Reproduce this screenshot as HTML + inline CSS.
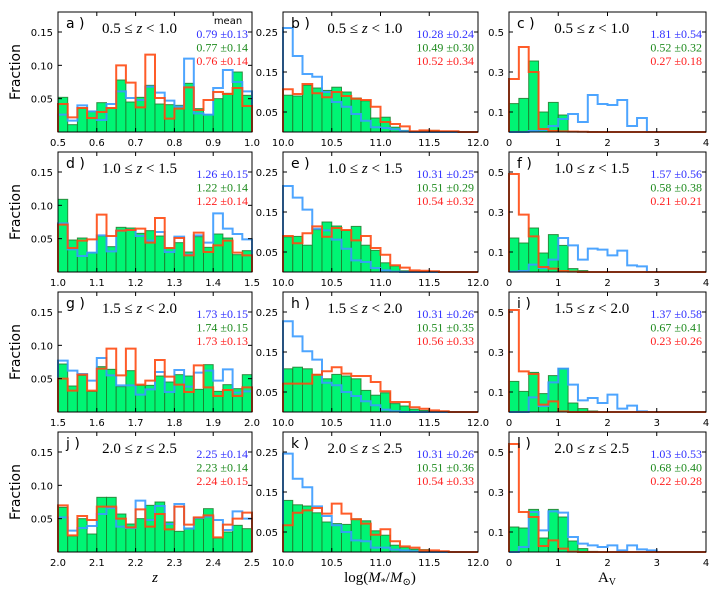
<!DOCTYPE html>
<html><head><meta charset="utf-8">
<style>
body{margin:0;background:#fff;}
svg{display:block;}
.tk{font-family:"DejaVu Sans","Liberation Sans",sans-serif;font-size:10px;fill:#000;}
.pl{font-family:"DejaVu Sans","Liberation Sans",sans-serif;font-size:14px;fill:#000;}
.ti{font-family:"Liberation Serif","DejaVu Serif",serif;font-size:15px;fill:#000;}
.mn{font-family:"Liberation Serif","DejaVu Serif",serif;font-size:12px;}
.yl{font-family:"DejaVu Sans","Liberation Sans",sans-serif;font-size:14px;fill:#000;}
.xl{font-family:"Liberation Serif","DejaVu Serif",serif;font-size:15px;fill:#000;}
</style></head>
<body>
<svg id="chart" width="720" height="600" viewBox="0 0 720 600" xmlns="http://www.w3.org/2000/svg"></svg>
<script>
// ---- data (20 bins per panel) ----
const panelIds = ["a","b","c","d","e","f","g","h","i","j","k","l"];
const zRanges = ["0.5 ≤ z < 1.0","1.0 ≤ z < 1.5","1.5 ≤ z < 2.0","2.0 ≤ z ≤ 2.5"];
const blueMeans = ["0.79 ±0.13","10.28 ±0.24","1.81 ±0.54","1.26 ±0.15","10.31 ±0.25","1.57 ±0.56","1.73 ±0.15","10.31 ±0.26","1.37 ±0.58","2.25 ±0.14","10.31 ±0.26","1.03 ±0.53"];
const greenMeans = ["0.77 ±0.14","10.49 ±0.30","0.52 ±0.32","1.22 ±0.14","10.51 ±0.29","0.58 ±0.38","1.74 ±0.15","10.51 ±0.35","0.67 ±0.41","2.23 ±0.14","10.51 ±0.36","0.68 ±0.40"];
const redMeans = ["0.76 ±0.14","10.52 ±0.34","0.27 ±0.18","1.22 ±0.14","10.54 ±0.32","0.21 ±0.21","1.73 ±0.13","10.56 ±0.33","0.23 ±0.26","2.24 ±0.15","10.54 ±0.33","0.22 ±0.28"];
const zTickLabels = [["0.5","0.6","0.7","0.8","0.9","1.0"],["1.0","1.1","1.2","1.3","1.4","1.5"],["1.5","1.6","1.7","1.8","1.9","2.0"],["2.0","2.1","2.2","2.3","2.4","2.5"]];
const massTickLabels = ["10.0","10.5","11.0","11.5","12.0"];
const avTickLabels = ["0","1","2","3","4"];
const zYTicks = ["0.05","0.10","0.15"];
const massYTicks = ["0.05","0.15","0.25"];
const avYTicks = ["0.1","0.3","0.5"];

const greenData = [
 [0.052,0.011,0.036,0.031,0.044,0.036,0.078,0.045,0.052,0.070,0.042,0.041,0.040,0.073,0.035,0.026,0.050,0.058,0.090,0.055],
 [0.092,0.090,0.117,0.110,0.104,0.112,0.100,0.085,0.078,0.035,0.037,0.012,0.004,0,0.003,0.004,0,0,0,0],
 [0.142,0.168,0.355,0.100,0.148,0.085,0.003,0.002,0.002,0.001,0,0,0,0,0,0,0,0,0,0],
 [0.109,0.048,0.051,0.029,0.054,0.038,0.067,0.066,0.058,0.062,0.054,0.036,0.044,0.030,0.053,0.037,0.057,0.051,0.026,0.032],
 [0.088,0.089,0.067,0.106,0.125,0.115,0.104,0.114,0.067,0.054,0.023,0.015,0.003,0.002,0.001,0,0,0,0,0],
 [0.170,0.145,0.220,0.095,0.187,0.133,0.017,0.007,0,0,0,0,0,0,0,0,0,0,0,0],
 [0.072,0.039,0.055,0.031,0.068,0.064,0.038,0.062,0.040,0.040,0.054,0.045,0.056,0.054,0.034,0.071,0.031,0.041,0.035,0.056],
 [0.108,0.112,0.108,0.094,0.083,0.094,0.090,0.083,0.054,0.042,0.048,0.021,0.015,0.007,0.004,0.002,0.002,0,0,0],
 [0.153,0.103,0.198,0.092,0.182,0.217,0.045,0.017,0.005,0,0,0,0,0,0,0,0,0,0,0],
 [0.067,0.024,0.050,0.027,0.082,0.082,0.057,0.042,0.050,0.070,0.075,0.045,0.031,0.036,0.050,0.065,0.021,0.030,0.040,0.035],
 [0.129,0.118,0.115,0.098,0.075,0.071,0.069,0.083,0.078,0.053,0.042,0.017,0.012,0.007,0.006,0.002,0,0,0,0],
 [0.125,0.120,0.213,0.070,0.213,0.175,0.055,0.017,0.003,0,0,0,0,0,0,0,0,0,0,0]
];
const blueData = [
 [0.026,0.017,0.040,0.031,0.018,0.042,0.061,0.051,0.048,0.068,0.059,0.047,0.038,0.110,0.028,0.026,0.066,0.093,0.075,0.061],
 [0.260,0.190,0.145,0.138,0.100,0.075,0.063,0.045,0.028,0.012,0.010,0.007,0.002,0,0,0,0,0,0,0],
 [0,0,0.005,0.010,0.030,0.065,0.090,0.050,0.185,0.140,0.135,0.160,0.030,0.070,0,0,0,0,0,0],
 [0.073,0.034,0.024,0.029,0.055,0.031,0.062,0.063,0.054,0.047,0.060,0.030,0.053,0.026,0.055,0.044,0.088,0.065,0.057,0.049],
 [0.215,0.186,0.156,0.108,0.104,0.081,0.058,0.029,0.025,0.010,0.004,0.001,0,0,0,0,0,0,0,0],
 [0.002,0.005,0.037,0.020,0.062,0.170,0.133,0.062,0.117,0.112,0.083,0.107,0.033,0.028,0,0,0,0,0,0],
 [0.077,0.062,0.057,0.047,0.081,0.055,0.040,0.040,0.026,0.034,0.060,0.030,0.063,0.038,0.059,0.062,0.047,0.064,0.029,0.031],
 [0.227,0.189,0.152,0.131,0.073,0.067,0.050,0.040,0.027,0.017,0.006,0.002,0,0,0,0,0,0,0,0],
 [0,0,0.073,0.030,0.148,0.217,0.137,0.058,0.070,0.045,0.087,0.017,0.032,0.003,0,0,0,0,0,0],
 [0.052,0.032,0.036,0.039,0.057,0.066,0.038,0.036,0.077,0.048,0.069,0.042,0.072,0.035,0.051,0.053,0.048,0.033,0.061,0.050],
 [0.246,0.183,0.162,0.114,0.090,0.067,0.050,0.029,0.027,0.011,0.011,0.006,0.004,0.002,0,0,0,0,0,0],
 [0,0.025,0.200,0.108,0.203,0.197,0.075,0.042,0.033,0.025,0.033,0.008,0.033,0.013,0.008,0,0,0,0,0]
];
const redData = [
 [0.042,0.022,0.036,0.021,0.030,0.036,0.100,0.074,0.037,0.116,0.051,0.020,0.035,0.067,0.033,0.048,0.060,0.057,0.066,0.039],
 [0.107,0.095,0.120,0.097,0.087,0.100,0.090,0.083,0.080,0.063,0.025,0.020,0.014,0.002,0.004,0.003,0.002,0.002,0,0],
 [0.265,0.425,0.300,0.015,0.005,0.003,0.002,0.001,0,0,0,0,0,0,0,0,0,0,0,0],
 [0.071,0.036,0.047,0.049,0.086,0.054,0.062,0.063,0.065,0.044,0.081,0.036,0.051,0.025,0.059,0.030,0.040,0.047,0.029,0.025],
 [0.090,0.072,0.097,0.114,0.088,0.110,0.105,0.079,0.090,0.060,0.043,0.017,0.011,0.004,0.003,0.002,0,0,0,0],
 [0.490,0.287,0.178,0.025,0.017,0.005,0.002,0,0,0,0,0,0,0,0,0,0,0,0,0],
 [0.050,0.032,0.056,0.032,0.065,0.095,0.055,0.095,0.041,0.047,0.078,0.053,0.041,0.030,0.070,0.037,0.024,0.033,0.024,0.037],
 [0.071,0.071,0.071,0.093,0.102,0.112,0.096,0.090,0.090,0.075,0.052,0.025,0.025,0.012,0.008,0.004,0.002,0,0,0],
 [0.510,0.203,0.190,0.037,0.053,0.003,0,0,0,0,0,0,0,0,0,0,0,0,0,0],
 [0.070,0.025,0.054,0.048,0.068,0.068,0.050,0.037,0.064,0.038,0.057,0.034,0.068,0.041,0.052,0.055,0.022,0.041,0.050,0.059],
 [0.067,0.098,0.104,0.110,0.096,0.121,0.096,0.082,0.071,0.043,0.057,0.027,0.014,0.011,0.004,0.004,0.002,0,0,0],
 [0.540,0.200,0.175,0.030,0.058,0.017,0.002,0,0,0,0,0,0,0,0,0,0,0,0,0]
];

// ---- layout ----
const colX = [[58,252],[283,478],[509,706]];
const rowTop = [12,152,292,432];
const PH = 120;
const NS = "http://www.w3.org/2000/svg";
const svg = document.getElementById("chart");
function mk(tag, attrs, parent){
  const e = document.createElementNS(NS, tag);
  for (const k in attrs) e.setAttribute(k, attrs[k]);
  (parent||svg).appendChild(e);
  return e;
}

for (let r = 0; r < 4; r++) {
  for (let c = 0; c < 3; c++) {
    const idx = r*3 + c;
    const x0 = colX[c][0], x1 = colX[c][1], y0 = rowTop[r], y1 = y0 + PH;
    let xmin, xmax, ymax, yt, xtl;
    if (c === 0) { xmin = 0.5 + 0.5*r; xmax = xmin + 0.5; ymax = 0.18; yt = zYTicks; xtl = zTickLabels[r]; }
    else if (c === 1) { xmin = 10; xmax = 12; ymax = 0.30; yt = massYTicks; xtl = massTickLabels; }
    else { xmin = 0; xmax = 4; ymax = 0.60; yt = avYTicks; xtl = avTickLabels; }
    const sx = v => x0 + (v - xmin) / (xmax - xmin) * (x1 - x0);
    const sy = v => y1 - v / ymax * PH;
    const g = mk("g", {});
    
    
    const nb = greenData[idx].length;
    const bw = (xmax - xmin) / nb;
    const gb = mk("g", {}, g);
    
    
    greenData[idx].forEach((v, i) => {
      if (v <= 0) return;
      const bx = sx(xmin + i*bw), bx2 = sx(xmin + (i+1)*bw);
      const rc = mk("rect", {x: bx, y: sy(v), width: bx2 - bx, height: y1 - sy(v), fill: "#00f574", stroke: "#1f7a2a", "stroke-width": 1, "stroke-opacity": 0.85}, gb);
      
      
    });
    function step(arr, color, name){
      let d = "M" + sx(xmin) + "," + y1;
      arr.forEach((v, i) => {
        d += " L" + sx(xmin + i*bw) + "," + sy(v) + " L" + sx(xmin + (i+1)*bw) + "," + sy(v);
      });
      d += " L" + sx(xmax) + "," + y1;
      const p = mk("path", {d: d, fill: "none", stroke: color, "stroke-width": 2, "stroke-opacity": 0.9}, g);
      
      
    }
    step(blueData[idx], "#3a9bff", "blue-step-line");
    step(redData[idx], "#ff4a12", "red-step-line");
    const fr = mk("rect", {x: x0, y: y0, width: x1 - x0, height: PH, fill: "none", stroke: "#000", "stroke-width": 1}, g);
    
    
    xtl.forEach((lab, i) => {
      const xv = xmin + i * (xmax - xmin) / (xtl.length - 1);
      const X = sx(xv);
      mk("line", {x1: X, y1: y1, x2: X, y2: y1 - 4, stroke: "#000"}, g);
      mk("line", {x1: X, y1: y0, x2: X, y2: y0 + 4, stroke: "#000"}, g);
      const t = mk("text", {x: X, y: y1 + 14, "text-anchor": "middle", class: "tk"}, g);
      t.textContent = lab;
      
      
    });
    yt.forEach(lab => {
      const Y = sy(parseFloat(lab));
      mk("line", {x1: x0, y1: Y, x2: x0 + 4, y2: Y, stroke: "#000"}, g);
      mk("line", {x1: x1, y1: Y, x2: x1 - 4, y2: Y, stroke: "#000"}, g);
      const t = mk("text", {x: x0 - 5, y: Y + 4, "text-anchor": "end", class: "tk"}, g);
      t.textContent = lab;
      
      
    });
    const pl = mk("text", {x: x0 + 8, y: y0 + 16, class: "pl"}, g);
    pl.textContent = panelIds[idx] + " )";
    
    
    const tt = mk("text", {x: x0 + (x1 - x0)*0.42, y: y0 + 21, "text-anchor": "middle", class: "ti"}, g);
    const zr = zRanges[r].split("z");
    tt.appendChild(document.createTextNode(zr[0]));
    const zi = mk("tspan", {"font-style": "italic"}, tt); zi.textContent = "z";
    tt.appendChild(document.createTextNode(zr[1]));
    
    
    if (idx === 0) {
      const mh = mk("text", {x: x1 - 24, y: y0 + 12, "text-anchor": "middle", class: "tk", "font-size": "11px"}, g);
      mh.textContent = "mean";
      
      
    }
    [[blueMeans, "#3030ff"], [greenMeans, "#1e8a1e"], [redMeans, "#ff2020"]].forEach((m, k) => {
      const t = mk("text", {x: x1 - 4, y: y0 + 26 + k*13.5, "text-anchor": "end", class: "mn", fill: m[1]}, g);
      t.textContent = m[0][idx];
      
      
    });
  }
  const yc = rowTop[r] + PH/2;
  const yl = mk("text", {x: 20, y: yc, "text-anchor": "middle", class: "yl", transform: "rotate(-90 20 " + yc + ")"});
  yl.textContent = "Fraction";
  
  
}
const xz = mk("text", {x: 155, y: 582, "text-anchor": "middle", class: "xl", "font-style": "italic"});
xz.textContent = "z";


const xm = mk("text", {x: 380, y: 582, "text-anchor": "middle", class: "xl"});
xm.innerHTML = 'log(<tspan font-style="italic">M</tspan><tspan font-size="10" dy="3">*</tspan><tspan dy="-3">/</tspan><tspan font-style="italic">M</tspan><tspan font-size="10" dy="3">⊙</tspan><tspan dy="-3">)</tspan>';


const xa = mk("text", {x: 607, y: 582, "text-anchor": "middle", class: "xl"});
xa.innerHTML = 'A<tspan font-size="10" dy="3">V</tspan>';


</script>
</body></html>
